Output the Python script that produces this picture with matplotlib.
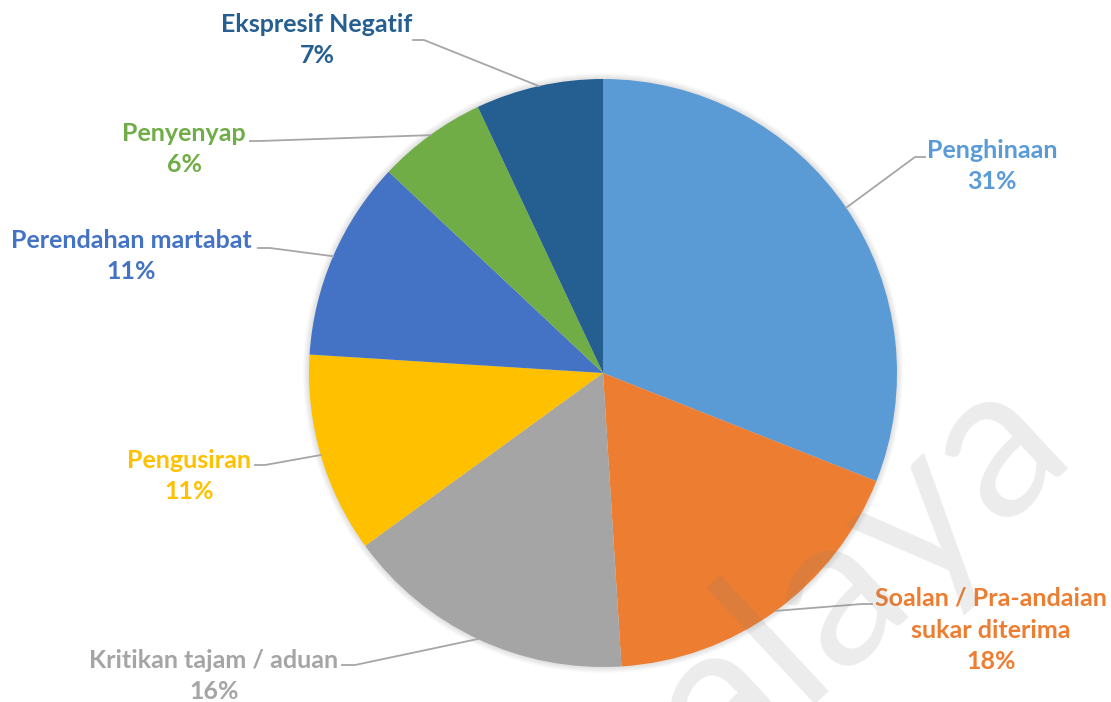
import numpy as np
import matplotlib.pyplot as plt
from matplotlib.patches import Circle

# data
labels = ["Penghinaan", "Soalan / Pra-andaian\nsukar diterima", "Kritikan tajam / aduan",
          "Pengusiran", "Perendahan martabat", "Penyenyap", "Ekspresif Negatif"]
values = [31, 18, 16, 11, 11, 6, 7]
colors = ["#5B9BD5", "#ED7D31", "#A5A5A5", "#FFC000", "#4472C4", "#70AD47", "#255E91"]

# layout (pixels, y measured from top)
W, H = 1111, 702
cx, cy, r = 603, 373, 294
label_xy = [(992, 166), (991, 630), (214, 676), (189, 476), (131, 256), (184, 149), (317, 40)]
line_end = [(925, 157), (872, 604), (342, 665), (255, 465), (258, 248), (250, 141), (413, 40)]
line_elbow = [(915, 157), (862, 604), (355, 665), (265, 465), (270, 248), (260, 141), (424, 40)]

fig = plt.figure(figsize=(W / 100, H / 100), dpi=100)
ax = fig.add_axes([0, 0, 1, 1])

# soft shadow
for k in range(1, 7):
    ax.add_patch(Circle((cx, H - cy), r + k, color="black", alpha=0.018, lw=0, zorder=0))

wedges, _ = ax.pie(values, colors=colors, startangle=90, counterclock=False,
                   center=(cx, H - cy), radius=r, wedgeprops=dict(linewidth=0))

for i, w in enumerate(wedges):
    mid = np.deg2rad((w.theta1 + w.theta2) / 2)
    ex, ey = cx + r * np.cos(mid), (H - cy) + r * np.sin(mid)
    (x1, y1), (x2, y2) = line_elbow[i], line_end[i]
    ax.plot([ex, x1, x2], [ey, H - y1, H - y2], color="#A6A6A6", lw=1.3, zorder=3)
    txt = f"{labels[i]}\n{values[i]}%"
    ax.text(label_xy[i][0], H - label_xy[i][1], txt, ha="center", va="center",
            color=colors[i], fontsize=18, fontweight="bold", family="Lato",
            linespacing=1.47, zorder=4)

# watermark
ax.text(900, H - 618, "alaya", rotation=43, rotation_mode="anchor", ha="center",
        va="baseline", fontsize=155, family="Lato", color="#808080", alpha=0.15, zorder=5)

ax.set_xlim(0, W)
ax.set_ylim(0, H)
ax.set_aspect("equal")
ax.axis("off")

fig.savefig("out.png", dpi=100)
